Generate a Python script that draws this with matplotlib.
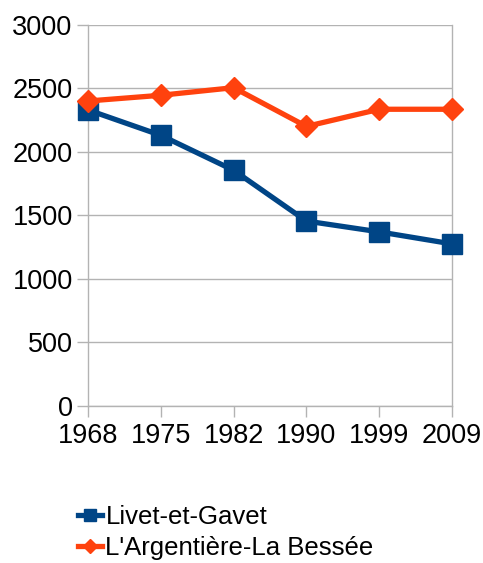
import matplotlib.pyplot as plt
from matplotlib.lines import Line2D

plt.rcParams['font.family'] = ['Liberation Sans', 'DejaVu Sans']

years = ['1968', '1975', '1982', '1990', '1999', '2009']
livet = [2330, 2130, 1855, 1455, 1370, 1275]
argentiere = [2400, 2445, 2505, 2200, 2335, 2335]
series_names = ['Livet-et-Gavet', "L'Argentière-La Bessée"]

blue = '#004586'
orange = '#ff420e'
grid = '#b3b3b3'

fig = plt.figure(figsize=(4.83, 5.63), dpi=100)
ax = fig.add_axes([0.182, 0.279, 0.754, 0.677])

x = range(len(years))
ax.plot(x, livet, color=blue, lw=3.8, marker='s', ms=14, zorder=3, clip_on=False)
ax.plot(x, argentiere, color=orange, lw=3.8, marker='D', ms=11, zorder=4, clip_on=False)

ax.set_xlim(0, len(years) - 1)
ax.set_ylim(0, 3000)
ax.set_yticks(range(0, 3001, 500))
ax.set_xticks(list(x))
ax.set_xticklabels(years)

ax.yaxis.grid(True, color=grid, lw=1)
ax.spines['top'].set_visible(False)
for s in ['left', 'right', 'bottom']:
    ax.spines[s].set_color(grid)
    ax.spines[s].set_linewidth(1)
ax.tick_params(axis='both', colors=grid, labelcolor='black', labelsize=19.5, width=1)
ax.tick_params(axis='y', length=8, pad=3)
ax.tick_params(axis='x', length=8, pad=4)

handles = [
    Line2D([], [], color=blue, lw=3.8, marker='s', ms=9),
    Line2D([], [], color=orange, lw=3.8, marker='D', ms=7),
]
fig.legend(handles, series_names, loc='upper left', bbox_to_anchor=(0.14, 0.122),
           frameon=False, fontsize=18.5, handlelength=0.95, handletextpad=0.12,
           labelspacing=0.3, borderaxespad=0)

fig.savefig('out.png', dpi=100)
